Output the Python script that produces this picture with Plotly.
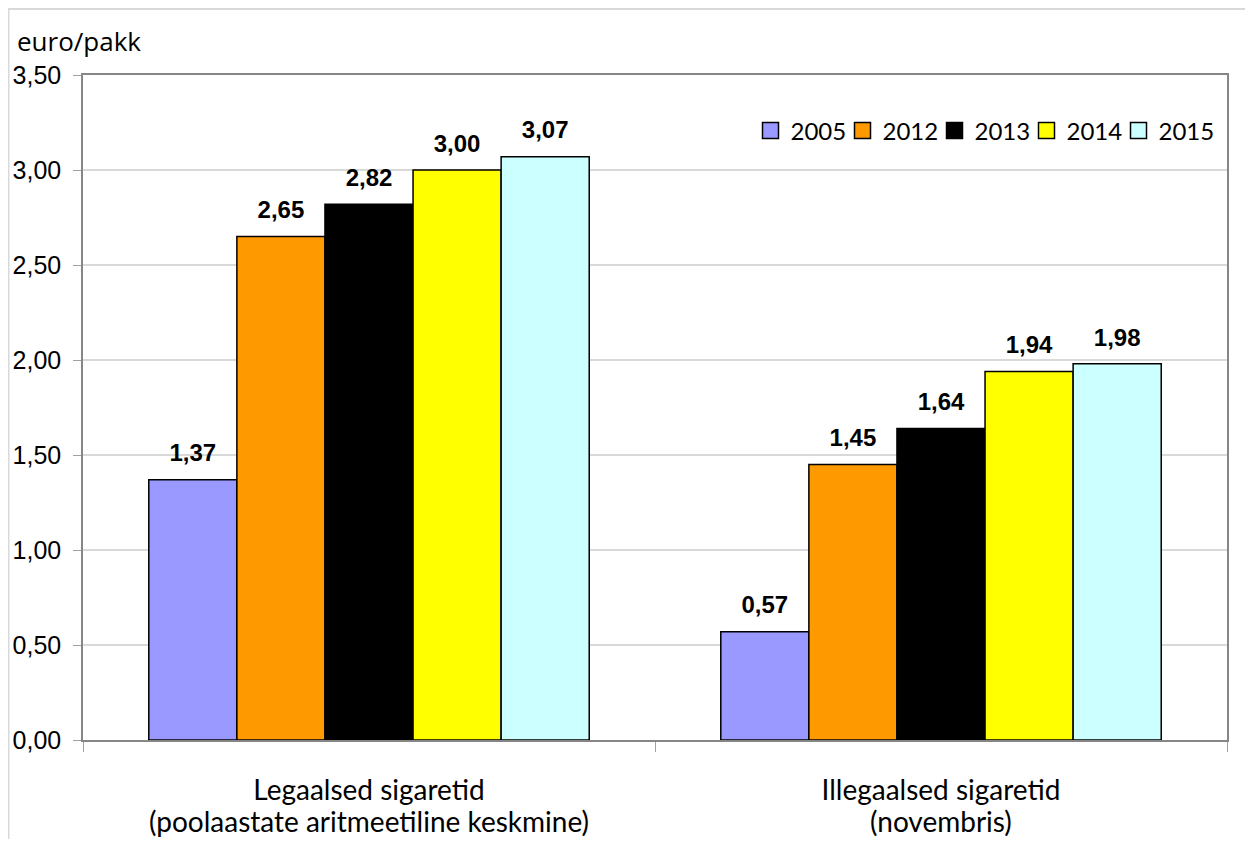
import plotly.graph_objects as go

categories = ["Legaalsed sigaretid", "Illegaalsed sigaretid"]
category_sub = ["(poolaastate aritmeetiline keskmine)", "(novembris)"]
years = ["2005", "2012", "2013", "2014", "2015"]
values_2005 = [1.37, 0.57]
values_2012 = [2.65, 1.45]
values_2013 = [2.82, 1.64]
values_2014 = [3.00, 1.94]
values_2015 = [3.07, 1.98]
series = [values_2005, values_2012, values_2013, values_2014, values_2015]
colors = ["#9999FF", "#FF9900", "#000000", "#FFFF00", "#CCFFFF"]
y_ticks = [0, 0.5, 1.0, 1.5, 2.0, 2.5, 3.0, 3.5]

fig = go.Figure()
for i, (yr, vals, col) in enumerate(zip(years, series, colors)):
    fig.add_trace(go.Bar(
        x=categories, y=vals, name=yr, offsetgroup=str(i),
        marker=dict(color=col, line=dict(color="#000000", width=1.5)),
        showlegend=False, hoverinfo="skip",
    ))
for i, (yr, vals, col) in enumerate(zip(years, series, colors)):
    fig.add_trace(go.Scatter(
        x=categories, y=vals, mode="markers+text", offsetgroup=str(i),
        text=[f"{v:.2f}".replace(".", ",") for v in vals],
        textposition="top center",
        textfont=dict(family="Liberation Sans", size=24, color="#000000", weight="bold"),
        marker=dict(size=18, opacity=0), showlegend=False, hoverinfo="skip",
        cliponaxis=False,
    ))
legend_ids = ["legend"] + [f"legend{k}" for k in range(2, len(years) + 1)]
for yr, col, lid in zip(years, colors, legend_ids):
    fig.add_trace(go.Scatter(
        x=[None], y=[None], mode="markers", name=yr, legend=lid,
        marker=dict(symbol="square", size=18, color=col, line=dict(color="#000000", width=1.5)),
    ))

annotations = [
    dict(text="euro/pakk", xref="paper", yref="paper", x=(15 - 83) / 1144, y=(740 - 41) / 665,
         xanchor="left", yanchor="middle", showarrow=False,
         font=dict(family="Open Sans", size=26, color="#000000")),
]
for cat, sub in zip(categories, category_sub):
    annotations.append(dict(text=sub, x=cat, xref="x", yref="paper", y=(740 - 821) / 665,
                            xanchor="center", yanchor="middle", showarrow=False,
                            font=dict(family="Lato", size=28, color="#000000")))

legend_common = dict(orientation="h", y=(740 - 131) / 665, yanchor="middle", xanchor="left",
                     font=dict(family="Lato", size=24, color="#000000"), itemwidth=30,
                     bgcolor="rgba(0,0,0,0)", tracegroupgap=0)
legend_left_px = [750.5, 842.5, 934.5, 1026.5, 1118.5]
legends = {lid: dict(x=(px - 83) / 1144, **legend_common)
           for lid, px in zip(legend_ids, legend_left_px)}

fig.update_layout(
    width=1237, height=831,
    margin=dict(l=75, r=18, t=67, b=99, autoexpand=False),
    paper_bgcolor="white", plot_bgcolor="white",
    separators=", ",
    barmode="group", bargap=0.23, bargroupgap=0,
    scattermode="group", scattergap=0.23,
    showlegend=True,
    **legends,
    xaxis=dict(
        automargin=False,
        showline=True, linecolor="#868686", linewidth=1.5, mirror=True,
        ticks="outside", tickson="boundaries", ticklen=10, tickcolor="#a0a0a0", tickwidth=1,
        tickfont=dict(family="Lato", size=28, color="#000000"),
        ticklabelstandoff=25, showgrid=False,
    ),
    yaxis=dict(
        automargin=False,
        range=[0, 3.5], tickvals=y_ticks, tickformat=".2f",
        showline=True, linecolor="#868686", linewidth=1.5, mirror=True,
        ticks="outside", ticklen=8, tickcolor="#a0a0a0",
        tickfont=dict(family="Liberation Sans", size=25, color="#000000"),
        showgrid=True, gridcolor="#d9d9d9", gridwidth=1.5, zeroline=False,
        ticklabelstandoff=7,
    ),
    annotations=annotations,
    shapes=[dict(type="rect", xref="paper", yref="paper",
                 x0=(8.5 - 83) / 1144, x1=1.2, y0=-0.5, y1=(740 - 9) / 665,
                 line=dict(color="#d9d9d9", width=2), layer="below")],
)

fig.write_html("out.html")
